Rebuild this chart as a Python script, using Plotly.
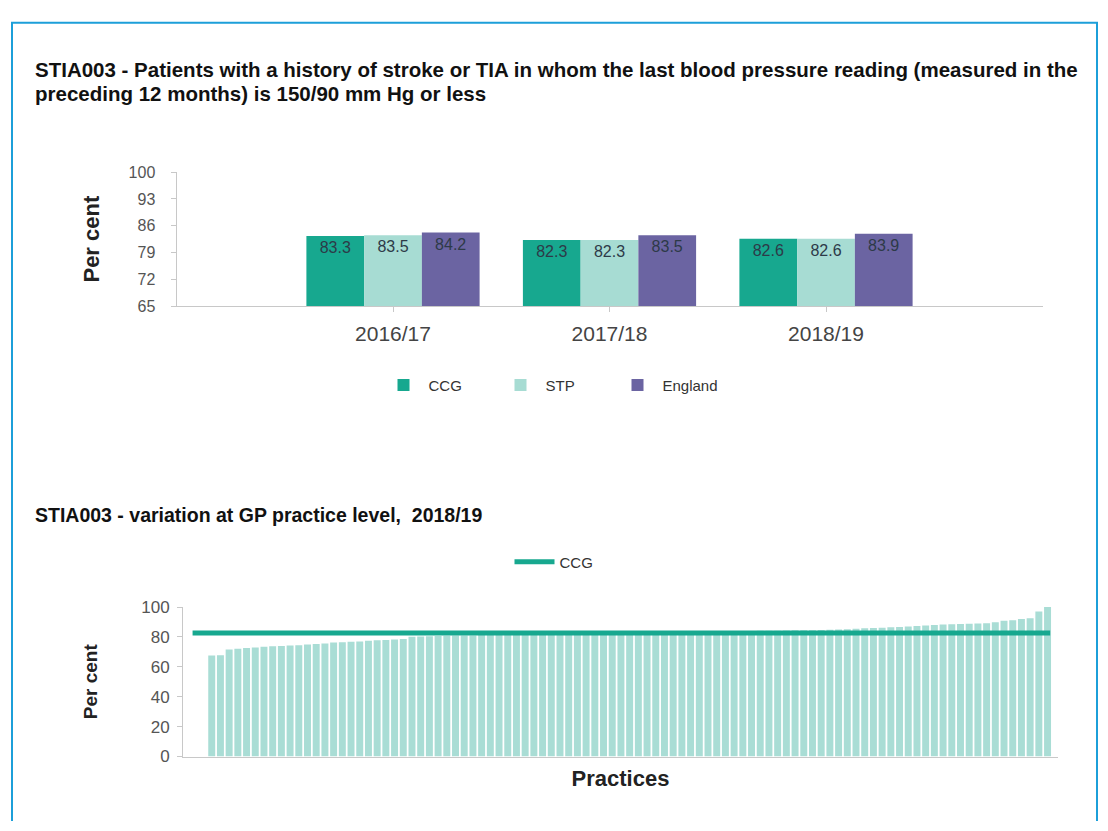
import plotly.graph_objects as go

W, H = 1108, 831

# Indicator values by year
years = ["2016/17", "2017/18", "2018/19"]
ccg = [83.3, 82.3, 82.6]
stp = [83.5, 82.3, 82.6]
england = [84.2, 83.5, 83.9]
top_ticks = [65, 72, 79, 86, 93, 100]

# Practice-level values for 2018/19, sorted ascending
practice_values = [
    67.5, 67.8, 71.5, 72.0, 72.5, 73.0, 73.5, 73.8, 74.0, 74.2,
    74.5, 75.0, 75.3, 75.6, 76.2, 76.5, 76.8, 77.0, 77.5, 77.8,
    78.0, 78.3, 78.6,
    80.1, 80.3, 80.4, 80.6, 80.7, 80.9, 81.0, 81.0, 81.2, 81.3,
    81.4, 81.5, 81.5, 81.7, 81.8, 81.9, 82.0, 82.1, 82.2, 82.2,
    82.4, 82.5, 82.6, 82.7, 82.8, 82.9, 83.0, 83.0, 83.1, 83.2,
    83.3, 83.4, 83.5, 83.5, 83.6, 83.7, 83.8, 83.9, 84.0, 84.0,
    84.1, 84.2, 84.2, 84.3, 84.4, 84.4,
    84.5, 84.6, 84.8, 85.0, 85.2, 85.5,
    85.8, 86.0, 86.2, 86.5, 86.7, 87.0,
    87.3, 87.6, 88.0,
    88.3, 88.5, 88.6, 88.8, 89.0, 89.2,
    89.8, 90.8, 91.2, 92.0, 92.5, 97.0, 100.0,
]
ccg_2018 = 82.6
bottom_ticks = [0, 20, 40, 60, 80, 100]

C_CCG = "#17a88f"
C_STP = "#a7dcd3"
C_ENG = "#6b64a2"
FONT = "Liberation Sans, Arial, sans-serif"
TICK_COLOR = "#555555"
AXIS_COLOR = "#c8c8c8"


def px_x(p):
    return p / W


def px_y(p):
    return 1 - p / H


fig = go.Figure()

label_font = dict(family=FONT, size=16, color="#2d3a48")
for name, vals, col in [("CCG", ccg, C_CCG), ("STP", stp, C_STP), ("England", england, C_ENG)]:
    fig.add_trace(go.Bar(
        x=years, y=vals, name=name, marker=dict(color=col, line=dict(width=0)),
        text=[f"{v:.1f}" for v in vals], textposition="inside",
        insidetextanchor="end", textangle=0, textfont=label_font,
        xaxis="x", yaxis="y", legend="legend",
    ))

practice_idx = list(range(len(practice_values)))
fig.add_trace(go.Bar(
    x=practice_idx, y=practice_values, marker=dict(color="#a9ddd5", line=dict(width=0)),
    showlegend=False, xaxis="x2", yaxis="y2", hoverinfo="y",
))
fig.add_trace(go.Scatter(
    x=[practice_idx[0] - 2.2, practice_idx[-1] + 0.3],
    y=[ccg_2018, ccg_2018], mode="lines", name="CCG",
    line=dict(color=C_CCG, width=5), xaxis="x2", yaxis="y2", legend="legend2",
))

axis_common = dict(
    showline=True, linecolor=AXIS_COLOR, linewidth=1, showgrid=False, zeroline=False,
    ticks="outside", tickcolor=AXIS_COLOR, ticklen=5,
)

fig.update_layout(
    width=W, height=H, margin=dict(l=0, r=0, t=0, b=0),
    paper_bgcolor="white", plot_bgcolor="white",
    barmode="group", bargap=0.2, bargroupgap=0,
    font=dict(family=FONT, color=TICK_COLOR),
    xaxis=dict(
        domain=[px_x(176.5), px_x(1042.5)], anchor="y", type="category",
        range=[-1, 3], tickfont=dict(size=21, color="#444444"), ticklabelstandoff=4,
        **axis_common,
    ),
    yaxis=dict(
        domain=[px_y(304), px_y(167)], anchor="x", range=[65, 100],
        tickvals=top_ticks, tickfont=dict(size=16, color=TICK_COLOR), ticklabelstandoff=12,
        title=dict(text="<b>Per cent</b>", font=dict(size=22, color="#222222"), standoff=22),
        **axis_common,
    ),
    xaxis2=dict(
        domain=[px_x(183), px_x(1058)], anchor="y2", range=[-3.3, 97.2],
        showticklabels=False, showline=True, linecolor=AXIS_COLOR, showgrid=False,
        zeroline=False, ticks="",
        title=dict(text="<b>Practices</b>", font=dict(size=22, color="#222222"), standoff=14),
    ),
    yaxis2=dict(
        domain=[px_y(765), px_y(612)], anchor="x2", range=[0, 100],
        tickvals=bottom_ticks, tickfont=dict(size=17, color=TICK_COLOR), ticklabelstandoff=4,
        title=dict(text="<b>Per cent</b>", font=dict(size=19, color="#222222"), standoff=38),
        **axis_common,
    ),
    legend=dict(
        orientation="h", x=0.5, xanchor="center", y=px_y(385), yanchor="middle",
        font=dict(size=15, color="#333333"), bgcolor="rgba(0,0,0,0)",
        itemwidth=40, entrywidth=62,
    ),
    legend2=dict(
        orientation="h", x=0.5, xanchor="center", y=px_y(566), yanchor="middle",
        font=dict(size=15, color="#333333"), bgcolor="rgba(0,0,0,0)",
        itemwidth=40,
    ),
)

for text, ypix, size in [
    ("<b>STIA003 - Patients with a history of stroke or TIA in whom the last blood pressure reading (measured in the</b>", 62, 20.5),
    ("<b>preceding 12 months) is 150/90 mm Hg or less</b>", 86, 20.5),
    ("<b>STIA003 - variation at GP practice level,&nbsp; 2018/19</b>", 518, 19.5),
]:
    fig.add_annotation(
        text=text, xref="paper", yref="paper", x=px_x(33), y=px_y(ypix),
        xanchor="left", yanchor="middle", showarrow=False, align="left",
        font=dict(family=FONT, size=size, color="#111111"),
    )

# Blue frame around the panel (open at the bottom edge of the page)
x0, x1, ytop, ybot = px_x(12), px_x(1097), px_y(14), 0
fig.add_shape(
    type="path", xref="paper", yref="paper",
    path=f"M {x0},{ybot} L {x0},{ytop} L {x1},{ytop} L {x1},{ybot}",
    line=dict(color="#1c9fd9", width=2), layer="above",
)

fig.write_html("out.html")
